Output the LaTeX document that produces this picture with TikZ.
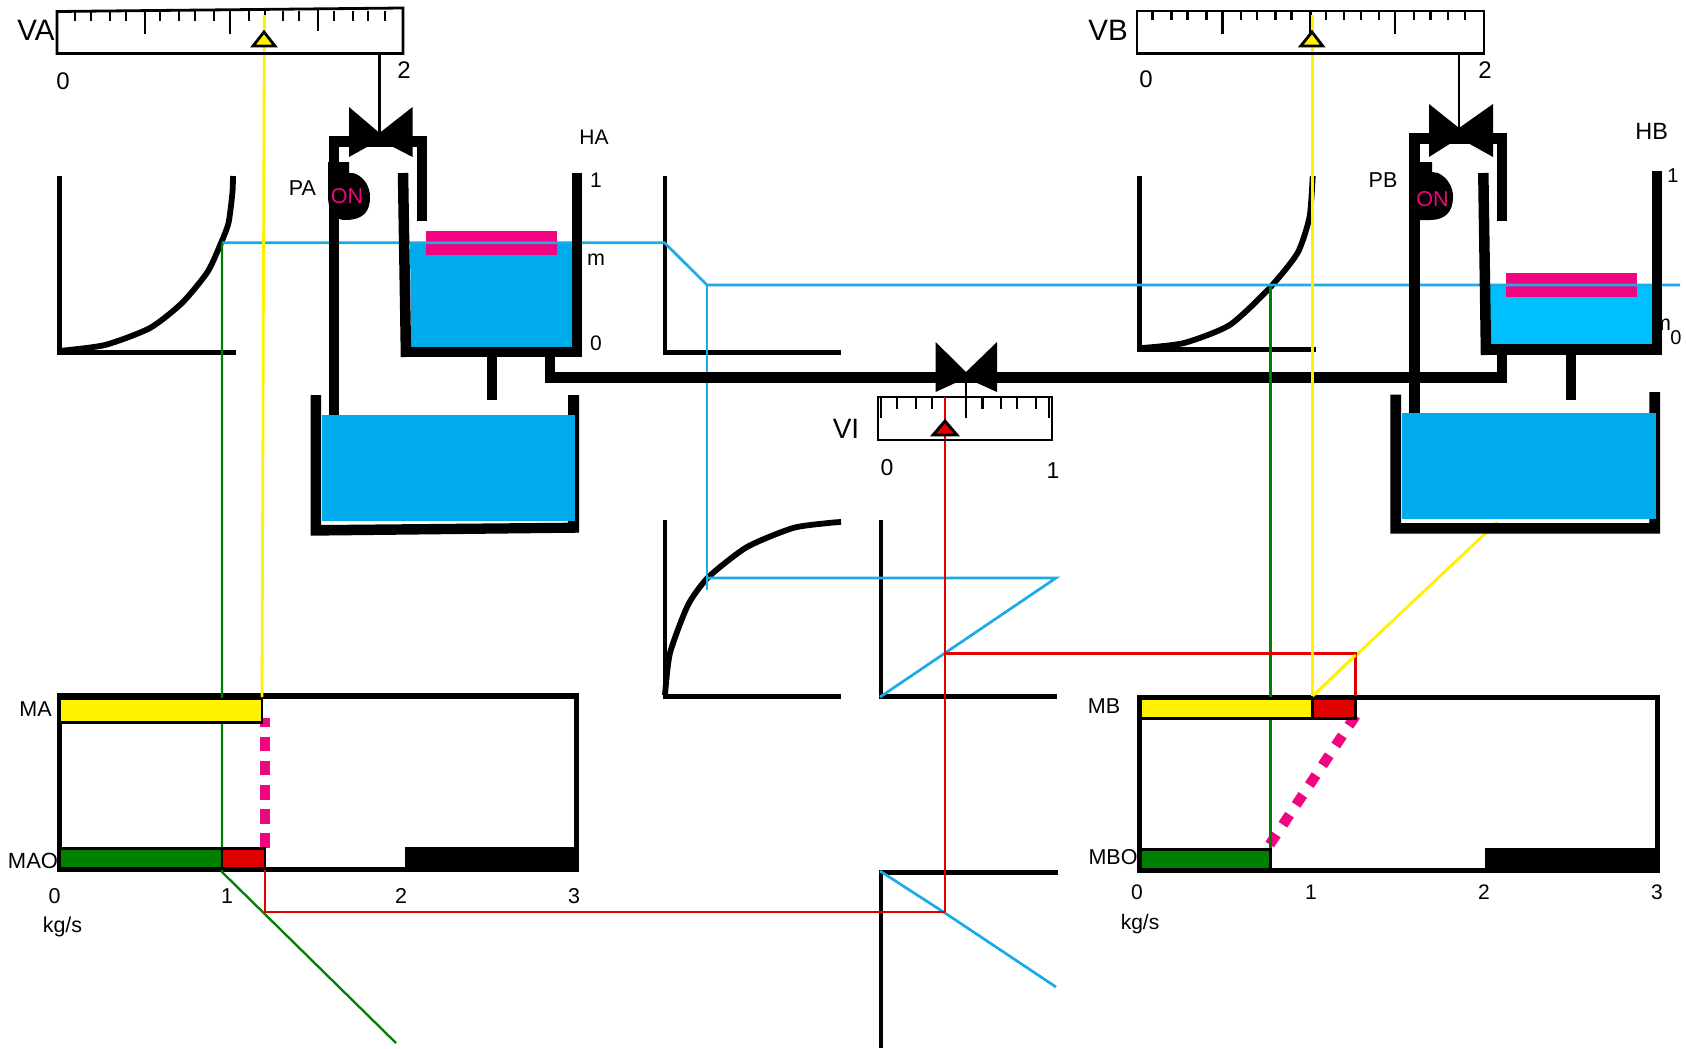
\documentclass[tikz,border=0pt]{standalone}
\usepackage{fontspec}
\setmainfont{Liberation Sans}
\definecolor{mag}{HTML}{F0047F}
\definecolor{wat}{HTML}{00ABEB}
\definecolor{watb}{HTML}{00BFFF}
\definecolor{bl}{HTML}{1AABE8}
\definecolor{gr}{HTML}{008000}
\definecolor{rd}{HTML}{E00000}
\definecolor{ye}{HTML}{FFF200}
\tikzset{
  lbl/.style={font=\fontsize{#1}{#1}\selectfont,inner sep=0pt,text=black,yshift=-1pt},
  onlbl/.style={font=\fontsize{21.5}{21.5}\selectfont,inner sep=0pt,text=mag,yshift=-1pt},
  pipe/.style={line width=10.5pt,black},
  axisline/.style={line width=5pt,black},
  curveline/.style={line width=5.8pt,black,line join=round},
  blueline/.style={line width=2.7pt,bl},
  greenline/.style={line width=2.3pt,gr},
  yellowline/.style={line width=2.8pt,ye},
  redline/.style={line width=2.6pt,rd},
  gauge/.style={line width=2.8pt,black,fill=white},
  tick/.style={line width=2.8pt,black},
  bar/.style={line width=2.8pt,black},
  magdash/.style={line width=10.3pt,mag},
  solidblack/.style={fill=black,draw=none},
  pointer/.style={line width=2.8pt,black,line join=miter},
}
\begin{document}
\begin{tikzpicture}[x=1pt,y=-1pt]
\useasboundingbox (0,0) rectangle (1686,1049);
\fill[white] (0,0) rectangle (1686,1049);

% response charts
\draw[axisline] (59,176) -- (59,354);
\draw[axisline] (57,352) -- (236,352);
\draw[curveline] plot[smooth,tension=0.4] coordinates {(59,351) (105,345) (150,328) (182,303) (207.5,272) (221,243) (228.5,223) (232.4,193) (233,176)};
\draw[axisline,line width=4.5pt] (665,176) -- (665,354);
\draw[axisline] (663,352) -- (841,352);
\draw[axisline,line width=4.5pt] (665,520) -- (665,698);
\draw[axisline] (663,696) -- (841,696);
\draw[curveline] plot[smooth,tension=0.4] coordinates {(665,695) (670,653) (688,605) (708.5,577) (747,547) (793,528) (828.5,523) (841,522)};
\draw[axisline,line width=4.5pt] (881,520) -- (881,698);
\draw[axisline] (879,696) -- (1057,696);
\draw[axisline,line width=4.5pt] (881,871) -- (881,1048);
\draw[axisline] (879,872) -- (1058,872);
\draw[axisline] (1139.5,176) -- (1139.5,351);
\draw[axisline] (1137,349.5) -- (1315.5,349.5);
\draw[curveline] plot[smooth,tension=0.4] coordinates {(1142,348) (1184,343) (1229.7,325) (1269.6,288) (1297.5,253) (1309.5,217) (1312.7,176)};

% water and floats in the upper tanks
\fill[wat] (410,242.7) -- (572,242.7) -- (572,347) -- (411,347) -- cycle;
\fill[mag] (426,230.7) rectangle (557,255);
\fill[watb] (1490,285.7) rectangle (1652,344);
\fill[mag] (1506,273.3) rectangle (1637,297.3);

% m of tank B, half hidden by the wall
\node[lbl=21.5] (mB) at (1662,324) {m};

% blue construction lines
\draw[blueline] (222,242.7) -- (664.5,242.7) -- (707,285) -- (1680,285);
\draw[blueline] (707,285) -- (707,590);
\draw[blueline] (707,578) -- (1056,578) -- (880,697);
\draw[blueline] (880,871) -- (945,913) -- (1056,987);

% yellow diagonal, under the tank floor
\draw[yellowline] (1312.7,696) -- (1497.5,522);

% tank A, upper
\draw[pipe] (403,173) -- (406,357);
\draw[pipe] (577,173) -- (577,357);
\draw[pipe] (401,352) -- (582,352);
\draw[pipe] (492,357) -- (492,400);
% pump circuit A
\draw[pipe] (334,415) -- (334,141.5) -- (422,141.5) -- (422,221);
\fill[solidblack] (349,107) -- (379.5,133) -- (412.6,107) -- (412.6,157) -- (379.5,140) -- (349,157) -- cycle;
\fill[solidblack] (328,162) -- (349,162) -- (349,172.7) -- (355,173.5) .. controls (365,178) and (370,187) .. (370,197) .. controls (370,210) and (365,220) .. (345,220) .. controls (333,220) and (328,210) .. (328,195) -- cycle;
% lower tank A
\fill[solidblack] (310.6,395) -- (321,395) -- (321,525) -- (568,522.7) -- (568,395) -- (579,395) -- (579,532.7) -- (310.6,535.7) -- cycle;
\fill[wat] (322,415) rectangle (575,521);

% tank B, upper
\draw[pipe] (1483.3,173) -- (1486,355);
\draw[pipe] (1657,171) -- (1657,355);
\draw[pipe] (1481,349.5) -- (1662,349.5);
\draw[pipe] (1571,355) -- (1571,400);
% pump circuit B
\draw[pipe] (1414.5,413) -- (1414.5,138.5) -- (1502,138.5) -- (1502,221);
\fill[solidblack] (1429,104) -- (1459,128) -- (1493,104) -- (1493,157) -- (1459,138) -- (1429,157) -- cycle;
\fill[solidblack] (1412,162) -- (1432,162) -- (1432,172) -- (1438,173) .. controls (1448,178) and (1453,187) .. (1453,197) .. controls (1453,212) and (1445,220) .. (1430,220) -- (1420,220) -- (1412,217) -- cycle;
% lower tank B
\fill[solidblack] (1390.4,394.7) -- (1401.2,394.7) -- (1401.2,523) -- (1649.4,523) -- (1649.4,392) -- (1660,392) -- (1660,533.6) -- (1390.4,533.6) -- cycle;
\fill[wat] (1402,413) rectangle (1656,519);

% connecting pipe with its valve
\draw[pipe] (550,357) -- (550,377.5) -- (1502,377.5) -- (1502,355);
\fill[solidblack] (935.6,342) -- (966,372) -- (997,342) -- (997,392) -- (966,378) -- (935.6,392) -- cycle;

% flow charts: frames
\draw[line width=5.4pt,black] (59.5,695.8) rectangle (576.5,869.5);
\fill[black] (405,846.7) rectangle (579,872);
\draw[line width=5pt,black] (1139.5,697) rectangle (1657.5,870.8);
\fill[black] (1485,848) rectangle (1660,873);

% magenta dashed links
\draw[magdash,dash pattern=on 14.7pt off 9.4pt] (264.8,847.7) -- (264.8,718);
\draw[magdash,dash pattern=on 12pt off 11.8pt] (1269.7,844.5) -- (1356,715);

% green construction lines
\draw[greenline] (222,242.7) -- (222,872) -- (396,1043);
\draw[greenline] (1270.4,285.7) -- (1270.4,850);

% red construction lines
\draw[redline] (265,868) -- (265,912) -- (945,912);
\draw[redline] (945,397) -- (945,912);
\draw[redline] (945,653.5) -- (1355.6,653.5) -- (1355.6,696);

% yellow construction lines
\draw[yellowline] (264.4,15) -- (262,697);
\draw[yellowline] (1312.7,15) -- (1312.7,696);
\draw[yellowline] (1312.7,696) -- (1355.6,655);

% bars of the flow charts
\draw[bar,fill=ye] (60,699) rectangle (262,722.7);
\draw[bar,fill=gr] (60,848.7) rectangle (222,868.7);
\draw[bar,fill=rd] (222,848.7) rectangle (265,868.7);
\draw[bar,fill=ye] (1140.7,698.5) rectangle (1312.7,718.5);
\draw[bar,fill=rd] (1312.7,698.5) rectangle (1355.6,718.5);
\draw[bar,fill=gr] (1140.7,849.8) rectangle (1270.6,869.4);

% gauge VA
\draw[tick,line width=2.4pt] (379.5,53) -- (379.5,133);
\draw[gauge,fill=none] (57,11.5) -- (403,8) -- (403,53.5) -- (57,53.5) -- cycle;
\foreach \x in {75,91,110,126,160,179,195,214,249,265,283,299,334,353,368,385}{\draw[tick] (\x,11) -- (\x,21.5);}
\foreach \x in {145,230}{\draw[tick] (\x,11) -- (\x,34);}
\draw[tick] (318,10) -- (318,31.5);
\draw[yellowline] (264.4,15) -- (264.4,36);
\draw[pointer,fill=ye] (264,32) -- (275,46) -- (253,46) -- cycle;

% gauge VB
\draw[tick,line width=2.4pt] (1459,53) -- (1459,128);
\draw[gauge,fill=none] (1137,11) rectangle (1484,53.5);
\foreach \x in {1152.6,1171.8,1187.7,1206.5,1241,1257,1275.6,1291.5,1326,1344,1361,1379,1414,1430.5,1448,1465}{\draw[tick] (\x,11) -- (\x,20);}
\foreach \x in {1222.5,1395}{\draw[tick] (\x,11) -- (\x,34);}
\draw[tick] (1310.7,11) -- (1310.7,34);
\draw[yellowline] (1312.7,15) -- (1312.7,36);
\draw[pointer,fill=ye] (1312,32) -- (1322.7,46) -- (1300.7,46) -- cycle;

% gauge VI
\draw[gauge,fill=none] (878,397) rectangle (1052,440);
\foreach \x in {897,916,932,982.6,1001,1017,1036}{\draw[tick] (\x,397) -- (\x,408.5);}
\draw[tick] (881,397) -- (881,418);
\draw[tick] (1049,397) -- (1049,418);
\draw[tick,line width=2.4pt] (966,372) -- (966,418);
\draw[redline] (945,397) -- (945,425);
\draw[pointer,fill=rd] (945,421) -- (957,435) -- (933,435) -- cycle;

% labels
\node[lbl=29.5] (tVA) at (36,29) {VA};
\node[lbl=24] (tVA0) at (63,80) {0};
\node[lbl=24] (tVA2) at (404,69) {2};
\node[lbl=21.5] (tPA) at (302.5,187) {PA};
\node[onlbl] (tONa) at (347,195) {ON};
\node[lbl=21] (tHA) at (594,136) {HA};
\node[lbl=21] (tHA1) at (596,179) {1};
\node[lbl=21.5] (tHAm) at (596,258.5) {m};
\node[lbl=21] (tHA0) at (596,342) {0};
\node[lbl=28] (tVI) at (846,428) {VI};
\node[lbl=23] (tVI0) at (887,467) {0};
\node[lbl=23] (tVI1) at (1053,470) {1};
\node[lbl=29.5] (tVB) at (1108,29) {VB};
\node[lbl=24] (tVB0) at (1146,78) {0};
\node[lbl=24] (tVB2) at (1485,69) {2};
\node[lbl=21.5] (tPB) at (1383,179.5) {PB};
\node[onlbl] (tONb) at (1432.5,198) {ON};
\node[lbl=23.5] (tHB) at (1651.6,130.7) {HB};
\node[lbl=20] (tHB1) at (1673,175) {1};
\node[lbl=20] (tHB0) at (1676,336.7) {0};
\node[lbl=21.5] (tMA) at (35.6,708) {MA};
\node[lbl=22] (tMAO) at (33,860) {MAO};
\node[lbl=21.5] (tA0) at (54.5,895) {0};
\node[lbl=21.5] (tA1) at (227,895) {1};
\node[lbl=21.5] (tA2) at (401,895) {2};
\node[lbl=21.5] (tA3) at (574,895) {3};
\node[lbl=21.5] (tAu) at (62.5,925.5) {kg/s};
\node[lbl=21.5] (tMB) at (1104,705) {MB};
\node[lbl=21.5] (tMBO) at (1113,856) {MBO};
\node[lbl=21] (tB0) at (1137,891) {0};
\node[lbl=21] (tB1) at (1311,891) {1};
\node[lbl=21] (tB2) at (1484,891) {2};
\node[lbl=21] (tB3) at (1657,891) {3};
\node[lbl=21] (tBu) at (1140,923) {kg/s};
\end{tikzpicture}
\end{document}
